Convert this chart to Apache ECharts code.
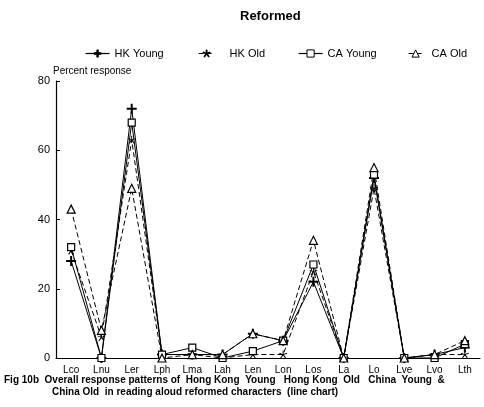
<!DOCTYPE html>
<html><head><meta charset="utf-8">
<script src="https://cdn.jsdelivr.net/npm/echarts@6/dist/echarts.min.js"></script>
<style>html,body{margin:0;padding:0;background:#fff}#c{width:484px;height:407px}</style>
</head><body><div id="c"></div>
<script>
var categories = ['Lco','Lnu','Ler','Lph','Lma','Lah','Len','Lon','Los','La','Lo','Lve','Lvo','Lth'];
var hkYoung = [28, 0, 72, 1, 1, 1, 7, 5, 22, 0, 52, 0, 1, 3];
var hkOld   = [31, 6, 63, 1, 1, 0, 1, 1, 25, 0, 49, 0, 1, 1];
var caYoung = [32, 0, 68, 1, 3, 0, 2, 5, 27, 0, 53, 0, 0, 4];
var caOld   = [43, 8, 49, 0, 1, 1, 7, 5, 34, 0, 55, 0, 1, 5];
var yTicks = [0, 20, 40, 60, 80];

var F = 'Liberation Sans, Arial, sans-serif';
var plus = 'path://M4,0L6,0L6,4L10,4L10,6L6,6L6,10L4,10L4,6L0,6L0,4L4,4Z';
var star = 'path://M4.5,0L5.5,0L5.5,3.8L9,2.5L9.3,3.4L5.9,4.6L8.2,8.1L7.4,8.7L5,5.4L2.6,8.7L1.8,8.1L4.1,4.6L0.7,3.4L1,2.5L4.5,3.8Z';

function mkSeries(name, data, symbol, size, dashed, hollow) {
  return {
    name: name, type: 'line', data: data, symbol: symbol, symbolSize: size,
    lineStyle: {color: '#000', width: 1, type: dashed ? [5, 3] : 'solid'},
    itemStyle: {color: hollow ? '#fff' : '#000', borderColor: '#000', borderWidth: hollow ? 1.2 : 0},
    emphasis: {disabled: true}, animation: false, z: 3
  };
}
var legText = {fontFamily: F, fontSize: 11, color: '#000'};
function leg(name, left, w, pad) {
  return {data: [name], left: left, top: 43, itemWidth: w, itemHeight: 9,
    lineStyle: {width: 1.2}, itemStyle: {borderWidth: 1},
    textStyle: Object.assign({padding: [0, 0, 0, pad]}, legText)};
}
var chart = echarts.init(document.getElementById('c'));
chart.setOption({
  animation: false,
  title: {text: 'Reformed', left: 235, top: 5, textStyle: {fontFamily: F, fontSize: 13, fontWeight: 'bold', color: '#000'}},
  legend: [
    leg('HK Young', 80, 24, 0),
    leg('HK Old', 193, 16, 10),
    leg('CA Young', 293, 24, 0),
    leg('CA Old', 403, 14, 4)
  ],
  grid: {left: 56, right: 4, top: 81, bottom: 49},
  xAxis: {
    type: 'category', data: categories, boundaryGap: true,
    axisLine: {lineStyle: {color: '#000', width: 1.2}},
    axisTick: {inside: true, length: 4, alignWithLabel: true, lineStyle: {color: '#000'}},
    axisLabel: {fontFamily: F, fontSize: 10, color: '#000', margin: 7, interval: 0}
  },
  yAxis: {
    type: 'value', min: 0, max: 80, interval: 20,
    axisLine: {show: true, lineStyle: {color: '#000', width: 1.2}},
    axisTick: {show: true, inside: true, length: 4, lineStyle: {color: '#000'}},
    splitLine: {show: false},
    axisLabel: {fontFamily: F, fontSize: 11, color: '#000', margin: 6,
      formatter: function (v) { return yTicks.indexOf(v) >= 0 ? String(v) : ''; }}
  },
  series: [
    mkSeries('HK Young', hkYoung, plus, 10, false, false),
    mkSeries('HK Old', hkOld, star, 8, true, false),
    mkSeries('CA Young', caYoung, 'rect', 7, false, true),
    mkSeries('CA Old', caOld, 'triangle', 8, true, true)
  ],
  graphic: [
    {type: 'text', left: 53, top: 66, style: {text: 'Percent response', font: '10px ' + F, fill: '#000'}},
    {type: 'text', left: 4, top: 375, style: {text: 'Fig 10b  Overall response patterns of  Hong Kong  Young   Hong Kong  Old   China  Young  &', font: 'bold 10px ' + F, fill: '#000'}},
    {type: 'text', left: 52, top: 387, style: {text: 'China Old  in reading aloud reformed characters  (line chart)', font: 'bold 10px ' + F, fill: '#000'}}
  ]
});
</script></body></html>
